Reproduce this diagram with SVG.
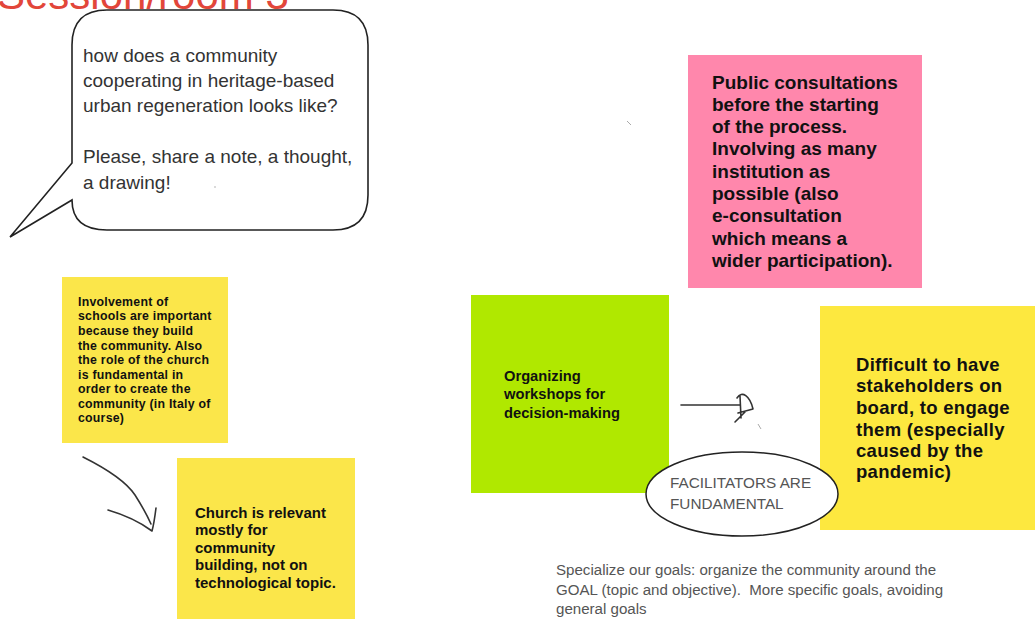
<svg xmlns="http://www.w3.org/2000/svg" width="1035" height="619" viewBox="0 0 1035 619">
<style>
.note{stroke:none}
.bold{font-family:"Liberation Sans",Arial,sans-serif;font-weight:700;fill:#111}
.reg{font-family:"Liberation Sans",Arial,sans-serif;fill:#333}
.ink{fill:none;stroke:#333;stroke-width:1.6;stroke-linecap:round;stroke-linejoin:round}
</style>
<rect width="1035" height="619" fill="#fff"/>
<g id="title"><text x="-3" y="9" font-family="Liberation Sans, Arial, sans-serif" font-size="42" fill="#e2463a">Session/room 3</text></g>
<g id="bubble">
<path d="M107,10 L333,10 Q368,10 368,45 L368,195 Q368,230 333,230 L107,230 Q72,230 72,200 L10,237 L72,163 L72,45 Q72,10 107,10 Z" fill="#fff" stroke="#222" stroke-width="1.6"/>
<text class="reg" font-size="19"><tspan x="83" y="62">how does a community</tspan><tspan x="83" y="87">cooperating in heritage-based</tspan><tspan x="83" y="112">urban regeneration looks like?</tspan><tspan x="83" y="163">Please, share a note, a thought,</tspan><tspan x="83" y="189">a drawing!</tspan></text>
<circle cx="215" cy="187" r="0.7" fill="#999"/>
</g>
<g id="note-schools">
<rect class="note" x="62" y="277" width="166" height="166" fill="#fbe64a"/>
<text class="bold" font-size="12.3" letter-spacing="0.25"><tspan x="78" y="306">Involvement of</tspan><tspan x="78" y="320">schools are important</tspan><tspan x="78" y="335">because they build</tspan><tspan x="78" y="350">the community. Also</tspan><tspan x="78" y="364">the role of the church</tspan><tspan x="78" y="379">is fundamental in</tspan><tspan x="78" y="393">order to create the</tspan><tspan x="78" y="408">community (in Italy of</tspan><tspan x="78" y="422">course)</tspan></text>
</g>
<g id="note-church">
<rect class="note" x="177" y="458" width="178" height="161" fill="#fbe64a"/>
<text class="bold" font-size="15"><tspan x="195" y="518">Church is relevant</tspan><tspan x="195" y="535">mostly for</tspan><tspan x="195" y="553">community</tspan><tspan x="195" y="570">building, not on</tspan><tspan x="195" y="588">technological topic.</tspan></text>
</g>
<g id="note-public">
<rect class="note" x="688" y="55" width="234" height="233" fill="#ff87ac"/>
<text class="bold" font-size="19"><tspan x="712" y="89">Public consultations</tspan><tspan x="712" y="111">before the starting</tspan><tspan x="712" y="133">of the process.</tspan><tspan x="712" y="155">Involving as many</tspan><tspan x="712" y="178">institution as</tspan><tspan x="712" y="200">possible (also</tspan><tspan x="712" y="222">e-consultation</tspan><tspan x="712" y="245">which means a</tspan><tspan x="712" y="267">wider participation).</tspan></text>
</g>
<g id="note-workshops">
<rect class="note" x="471" y="295" width="198" height="198" fill="#b0e800"/>
<text class="bold" font-size="14.7"><tspan x="504" y="381">Organizing</tspan><tspan x="504" y="399">workshops for</tspan><tspan x="504" y="418">decision-making</tspan></text>
</g>
<g id="note-difficult">
<rect class="note" x="820" y="306" width="215" height="224" fill="#fde83f"/>
<text class="bold" font-size="18.5" letter-spacing="0.3"><tspan x="856" y="371">Difficult to have</tspan><tspan x="856" y="392">stakeholders on</tspan><tspan x="856" y="414">board, to engage</tspan><tspan x="856" y="436">them (especially</tspan><tspan x="856" y="457">caused by the</tspan><tspan x="856" y="478">pandemic)</tspan></text>
</g>
<g id="facilitators">
<ellipse cx="742" cy="494" rx="96" ry="42" fill="#fff" stroke="#222" stroke-width="1.5"/>
<text class="reg" font-size="15.3" style="fill:#555"><tspan x="670" y="488">FACILITATORS ARE</tspan><tspan x="670" y="509">FUNDAMENTAL</tspan></text>
</g>
<g id="goals">
<text class="reg" font-size="15.1" style="fill:#555;white-space:pre"><tspan x="556" y="575">Specialize our goals: organize the community around the</tspan><tspan x="556" y="595">GOAL (topic and objective).  More specific goals, avoiding</tspan><tspan x="556" y="614">general goals</tspan></text>
</g>
<g id="connectors">
<path class="ink" d="M83,457 C105,468 125,480 135,495 C142,506 147,515 151,524"/>
<path class="ink" d="M108,510 C125,515 140,522 152,531 C154,524 155,516 156,508"/>
<path class="ink" d="M681,405 L740,405"/>
<path class="ink" d="M737,398 C742,390 750,396 753,409 L738,413 M740,396 L741,418 M745,412 L735,422"/>
<path d="M627,121 L631,125" stroke="#aaa" stroke-width="1"/>
<path d="M758,424 L761,429" stroke="#aaa" stroke-width="1"/>
</g>
</svg>
